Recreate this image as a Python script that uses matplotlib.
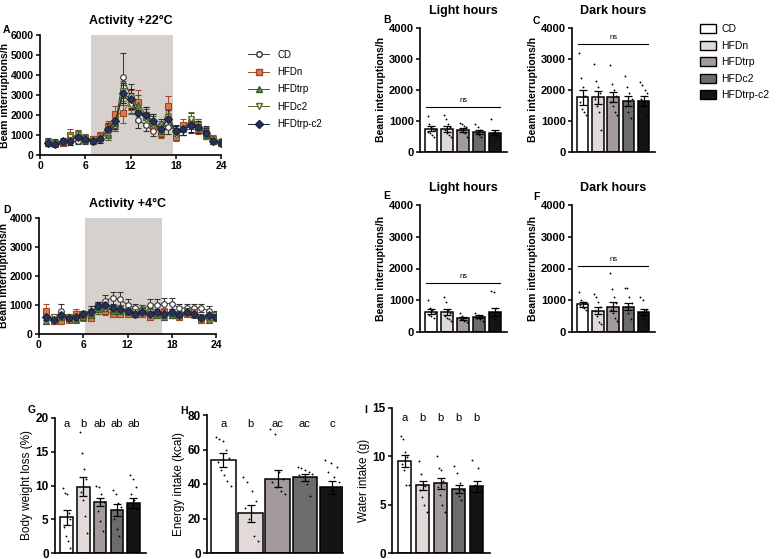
import numpy as np
import matplotlib
matplotlib.use("Agg")
from matplotlib import pyplot as plt
from matplotlib.patches import Patch
from matplotlib.lines import Line2D

plt.rcParams['font.family'] = ['Liberation Sans', 'DejaVu Sans']
plt.rcParams['axes.linewidth'] = 1.2

groups = ['CD', 'HFDn', 'HFDtrp', 'HFDc2', 'HFDtrp-c2']
hours = [1, 2, 3, 4, 5, 6, 7, 8, 9, 10, 11, 12, 13, 14, 15, 16, 17, 18, 19, 20, 21, 22, 23, 24]

# activity at +22C, mean per hour
act22 = {
    'CD':        [700, 650, 600, 650, 700, 700, 750, 900, 1200, 1500, 3900, 2950, 1750, 1500, 1200, 1500, 1400, 1250, 1300, 1450, 1500, 1200, 800, 700],
    'HFDn':      [600, 550, 600, 1000, 900, 850, 800, 950, 1400, 2050, 2100, 2750, 2650, 2000, 1500, 1100, 2450, 900, 1500, 1600, 1300, 1100, 800, 600],
    'HFDtrp':    [600, 600, 650, 800, 1000, 800, 750, 900, 1000, 1600, 3000, 2600, 2500, 1900, 1600, 1200, 2000, 1100, 1300, 1700, 1400, 1000, 700, 600],
    'HFDc2':     [650, 600, 600, 900, 1000, 850, 700, 800, 1100, 1700, 3200, 2500, 2200, 1800, 1500, 1400, 1900, 1000, 1300, 1800, 1500, 1000, 700, 600],
    'HFDtrp-c2': [600, 550, 700, 700, 900, 800, 700, 800, 1300, 1700, 3100, 2800, 2100, 2000, 1700, 1300, 1800, 1200, 1300, 1500, 1400, 1100, 700, 600],
}
err22 = {
    'CD':        [150, 150, 100, 150, 150, 150, 150, 200, 250, 300, 1200, 600, 400, 300, 250, 300, 350, 250, 300, 350, 300, 250, 150, 100],
    'HFDn':      [150, 100, 100, 300, 300, 200, 150, 200, 300, 400, 500, 500, 600, 400, 300, 250, 500, 200, 300, 300, 250, 300, 200, 150],
    'HFDtrp':    [150, 100, 150, 200, 250, 200, 150, 200, 250, 400, 500, 500, 500, 400, 350, 300, 500, 250, 300, 400, 300, 200, 150, 100],
    'HFDc2':     [150, 100, 150, 200, 250, 200, 150, 200, 250, 350, 500, 450, 450, 350, 300, 300, 450, 250, 300, 350, 300, 200, 150, 100],
    'HFDtrp-c2': [150, 100, 150, 200, 250, 200, 150, 200, 300, 400, 500, 500, 450, 400, 350, 300, 450, 250, 300, 350, 300, 250, 150, 100],
}

# activity at +4C, mean per hour
act4 = {
    'CD':        [650, 500, 800, 550, 700, 700, 800, 900, 1150, 1250, 1200, 1000, 900, 850, 1000, 1000, 1050, 1050, 900, 900, 900, 900, 800, 700],
    'HFDn':      [800, 450, 450, 500, 700, 600, 550, 950, 800, 700, 700, 700, 750, 700, 600, 700, 750, 650, 600, 700, 750, 500, 600, 550],
    'HFDtrp':    [450, 550, 600, 550, 500, 600, 650, 850, 900, 800, 800, 750, 700, 850, 800, 650, 600, 650, 700, 750, 700, 600, 500, 600],
    'HFDc2':     [550, 600, 550, 600, 550, 650, 700, 900, 850, 850, 900, 800, 750, 800, 750, 700, 650, 700, 650, 800, 650, 550, 600, 650],
    'HFDtrp-c2': [600, 500, 650, 550, 600, 700, 750, 950, 1000, 900, 850, 800, 700, 750, 700, 750, 700, 750, 650, 750, 700, 550, 650, 600],
}
err4 = {
    'CD':        [150, 100, 250, 100, 100, 100, 150, 200, 200, 200, 250, 200, 150, 150, 200, 200, 200, 200, 150, 150, 150, 150, 150, 100],
    'HFDn':      [250, 100, 100, 100, 150, 150, 100, 150, 150, 100, 100, 100, 150, 100, 100, 100, 150, 100, 100, 100, 100, 100, 100, 100],
    'HFDtrp':    [100, 100, 100, 100, 100, 100, 100, 150, 150, 100, 100, 100, 100, 150, 100, 100, 100, 100, 100, 100, 100, 100, 100, 100],
    'HFDc2':     [100, 100, 100, 100, 100, 100, 100, 150, 150, 100, 100, 100, 100, 100, 100, 100, 100, 100, 100, 100, 100, 100, 100, 100],
    'HFDtrp-c2': [100, 100, 100, 100, 100, 100, 100, 150, 150, 100, 100, 100, 100, 100, 100, 100, 100, 100, 100, 100, 100, 100, 100, 100],
}

# light / dark means, SEM and individual animals
light22_mean = [750, 740, 720, 650, 620]
light22_sem = [80, 90, 70, 60, 80]
light22_pts = [[1150, 900, 800, 750, 700, 650, 600, 550, 500],
               [1200, 1050, 900, 800, 700, 600, 550, 500],
               [950, 900, 850, 800, 700, 650, 600, 500],
               [900, 800, 700, 650, 600, 550, 500],
               [1050, 650, 600, 550, 500, 450]]
dark22_mean = [1760, 1760, 1760, 1650, 1650]
dark22_sem = [230, 200, 160, 150, 150]
dark22_pts = [[3200, 2400, 2100, 1800, 1600, 1400, 1300, 1200],
              [2850, 2300, 2100, 1900, 1700, 1500, 1300, 700],
              [2800, 2200, 2000, 1800, 1600, 1500, 1300, 1200],
              [2450, 2100, 1900, 1700, 1500, 1300, 1100],
              [2250, 2150, 2000, 1900, 1700, 1500, 1200]]
light4_mean = [640, 620, 430, 480, 630]
light4_sem = [80, 100, 40, 50, 120]
light4_pts = [[1000, 750, 700, 600, 550, 500, 450],
              [1100, 950, 700, 600, 500, 450, 400, 350],
              [600, 500, 450, 400, 350, 300],
              [600, 550, 500, 450, 400, 350],
              [1300, 1250, 750, 600, 500, 400, 300]]
dark4_mean = [880, 670, 800, 800, 620]
dark4_sem = [80, 110, 150, 120, 90]
dark4_pts = [[1250, 1000, 950, 900, 850, 800, 750, 700],
             [1200, 1100, 950, 800, 650, 500, 300, 250],
             [1850, 1350, 1100, 900, 700, 600, 450, 350],
             [1400, 1400, 1100, 900, 800, 600, 400],
             [1100, 1000, 700, 500, 400, 300]]

bw_mean = [5.3, 9.8, 7.6, 6.4, 7.4]
bw_sem = [1.1, 1.4, 0.6, 0.9, 0.8]
bw_pts = [[9.7, 8.9, 8.8, 6.0, 5.0, 3.9, 2.5, 1.8, 0.8],
          [18, 14.8, 12.5, 11, 9, 7.8, 5.5, 3],
          [9.9, 9.8, 8.8, 7.5, 6.2, 4.7, 3.2],
          [9.4, 8.8, 7.4, 6.8, 5.0, 3.5, 2.5],
          [11.5, 11, 9.8, 8.8, 7.8, 6.5]]
bw_letters = ['a', 'b', 'ab', 'ab', 'ab']

en_mean = [54, 23, 43, 44, 38]
en_sem = [4, 5, 5, 2, 4]
en_pts = [[67, 66, 65, 60, 55, 53, 48, 45, 42, 39],
          [44, 41, 36, 30, 26, 20, 10, 7],
          [72, 69, 47, 43, 41, 38, 36, 34],
          [50, 49, 48, 47, 46, 45, 44, 40, 33],
          [54, 52, 50, 47, 44, 41]]
en_letters = ['a', 'b', 'ac', 'ac', 'c']

wa_mean = [9.5, 7.0, 7.2, 6.6, 6.9]
wa_sem = [0.6, 0.5, 0.6, 0.4, 0.6]
wa_pts = [[12.1, 11.8, 10.5, 9.9, 9.2, 8.6, 7.0, 7.0],
          [9.5, 8.2, 7.0, 6.9, 6.5, 5.8, 5.0, 4.2],
          [10.0, 8.8, 8.6, 7.5, 6.8, 6.0, 5.0, 4.2],
          [9.0, 8.3, 7.2, 6.5, 6.2, 5.9, 5.5],
          [9.6, 8.8, 7.0, 6.5]]
wa_letters = ['a', 'b', 'b', 'b', 'b']

bar_colors = ['#ffffff', '#e2d9d9', '#a39b9b', '#6e6b6b', '#141414']
line_style = {
    'CD':        dict(marker='o', mfc='white', mec='#333333', color='#333333'),
    'HFDn':      dict(marker='s', mfc='#e07a45', mec='#9a4a2a', color='#9a4a2a'),
    'HFDtrp':    dict(marker='^', mfc='#5f8f3e', mec='#3b5a2a', color='#3b5a2a'),
    'HFDc2':     dict(marker='v', mfc='#f4f0dc', mec='#5c6a2a', color='#5c6a2a'),
    'HFDtrp-c2': dict(marker='D', mfc='#263256', mec='#1a2240', color='#1a2240'),
}

W, H = 776, 559
fig = plt.figure(figsize=(W / 100, H / 100), dpi=100)


def px_axes(x0, y_top, x1, y_bot):
    return fig.add_axes([x0 / W, 1 - y_bot / H, (x1 - x0) / W, (y_bot - y_top) / H])


def style(ax, fs=8):
    ax.spines['top'].set_visible(False)
    ax.spines['right'].set_visible(False)
    ax.tick_params(length=3, width=1.1, labelsize=fs, pad=1.5)
    for lab in ax.get_yticklabels() + ax.get_xticklabels():
        lab.set_fontweight('bold')


def time_panel(ax, data, errs, shade, ymax, title, width_px):
    ax.axvspan(shade[0], shade[1], color='#d6d1cc', zorder=0, lw=0)
    for g in groups:
        st = line_style[g]
        ax.errorbar(hours, data[g], yerr=errs[g], fmt='-', marker=st['marker'],
                    mfc=st['mfc'], mec=st['mec'], color=st['color'], ms=4, mew=0.8,
                    lw=0.7, elinewidth=0.7, capsize=2, capthick=0.7, ecolor=st['color'], zorder=3)
    ax.set_xlim(0, 24)
    ax.set_ylim(0, ymax)
    ax.set_xticks([0, 6, 12, 18, 24])
    ax.set_yticks(np.arange(0, ymax + 1, 1000))
    ax.set_ylabel('Beam interruptions/h', fontsize=7.5, fontweight='bold')
    ax.yaxis.set_label_coords(-30 / width_px, 0.5)
    ax.set_title(title, fontsize=9, fontweight='bold', pad=8)
    style(ax, 7.5)


def bar_panel(ax, means, sems, pts, width, ymax, step, fs=8):
    x = np.arange(len(means))
    ax.bar(x, means, width=width, color=bar_colors, edgecolor='black', linewidth=1.1, zorder=2)
    ax.errorbar(x, means, yerr=sems, fmt='none', ecolor='black', elinewidth=0.9,
                capsize=3, capthick=0.9, zorder=4)
    for i, p in enumerate(pts):
        n = len(p)
        offs = np.linspace(-width * 0.3, width * 0.3, n)
        offs = np.concatenate([offs[::2], offs[1::2]])
        ax.scatter(x[i] + offs, p, s=1.8, color='black', zorder=5, lw=0)
    ax.set_xlim(-0.7, len(means) - 0.25)
    ax.set_ylim(0, ymax)
    ax.set_yticks(np.arange(0, ymax + 0.001, step))
    ax.set_xticks([])
    style(ax, fs)


def ns_line(ax, y):
    ax.plot([-0.3, 4.3], [y, y], color='black', lw=0.8, clip_on=False)
    ax.text(2, y + 90, 'ns', ha='center', va='bottom', fontsize=5.5)


# A
axA = px_axes(40, 35, 221, 155)
time_panel(axA, act22, err22, (6.8, 17.6), 6000, 'Activity +22°C', 181)
handles = [Line2D([0], [0], color=line_style[g]['color'], marker=line_style[g]['marker'],
                  mfc=line_style[g]['mfc'], mec=line_style[g]['mec'], ms=4, lw=0.7) for g in groups]
axA.legend(handles, groups, loc='upper left', bbox_to_anchor=(1.1, 0.95), frameon=False,
           fontsize=7, handlelength=2.2, labelspacing=0.75)

# D
axD = px_axes(39, 218, 216, 334)
time_panel(axD, act4, err4, (6.2, 16.7), 4000, 'Activity +4°C', 177)

# B, C, E, F
panels = [
    ((420, 28, 507, 152), light22_mean, light22_sem, light22_pts, 1450, 'Light hours'),
    ((572, 28, 655, 152), dark22_mean, dark22_sem, dark22_pts, 3500, 'Dark hours'),
    ((420, 205, 507, 332), light4_mean, light4_sem, light4_pts, 1540, 'Light hours'),
    ((572, 205, 655, 332), dark4_mean, dark4_sem, dark4_pts, 2080, 'Dark hours'),
]
for box, m, s, p, nsy, title in panels:
    ax = px_axes(*box)
    bar_panel(ax, m, s, p, 0.75, 4000, 1000)
    ns_line(ax, nsy)
    ax.set_ylabel('Beam interruptions/h', fontsize=7.5, fontweight='bold', labelpad=2)
    ax.set_title(title, fontsize=9, fontweight='bold', pad=10)

fig.legend([Patch(facecolor=c, edgecolor='black', lw=1) for c in bar_colors], groups,
           loc='upper left', bbox_to_anchor=(696 / W, 1 - 20 / H), frameon=False,
           fontsize=7.5, handlelength=1.5, handleheight=1.0, handletextpad=0.5,
           labelspacing=0.6, borderaxespad=0)

# G, H, I
axG = px_axes(55, 418, 146, 553)
bar_panel(axG, bw_mean, bw_sem, bw_pts, 0.75, 20, 5, fs=8.5)
axG.set_ylabel('Body weight loss (%)', fontsize=8.5, labelpad=2)
for i, t in enumerate(bw_letters):
    axG.text(i, 18.3, t, ha='center', va='bottom', fontsize=8)

axH = px_axes(207, 415, 343, 553)
bar_panel(axH, en_mean, en_sem, en_pts, 0.9, 80, 20, fs=8.5)
axH.set_xlim(-0.6, 4.4)
axH.set_ylabel('Energy intake (kcal)', fontsize=8.5, labelpad=2)
for i, t in enumerate(en_letters):
    axH.text(i, 72, t, ha='center', va='bottom', fontsize=8)

axI = px_axes(392, 408, 490, 553)
bar_panel(axI, wa_mean, wa_sem, wa_pts, 0.75, 15, 5, fs=8.5)
axI.set_ylabel('Water intake (g)', fontsize=8.5, labelpad=2)
for i, t in enumerate(wa_letters):
    axI.text(i, 13.4, t, ha='center', va='bottom', fontsize=8)

# panel letters
for t, x, y in [('A', 3, 30), ('B', 383, 20), ('C', 533, 21), ('D', 3, 210), ('E', 383, 196),
                ('F', 533, 197), ('G', 28, 410), ('H', 180, 411), ('I', 364, 410)]:
    fig.text(x / W, 1 - y / H, t, fontsize=7.5, fontweight='bold', ha='left', va='center')

fig.savefig('out.png', dpi=100)
